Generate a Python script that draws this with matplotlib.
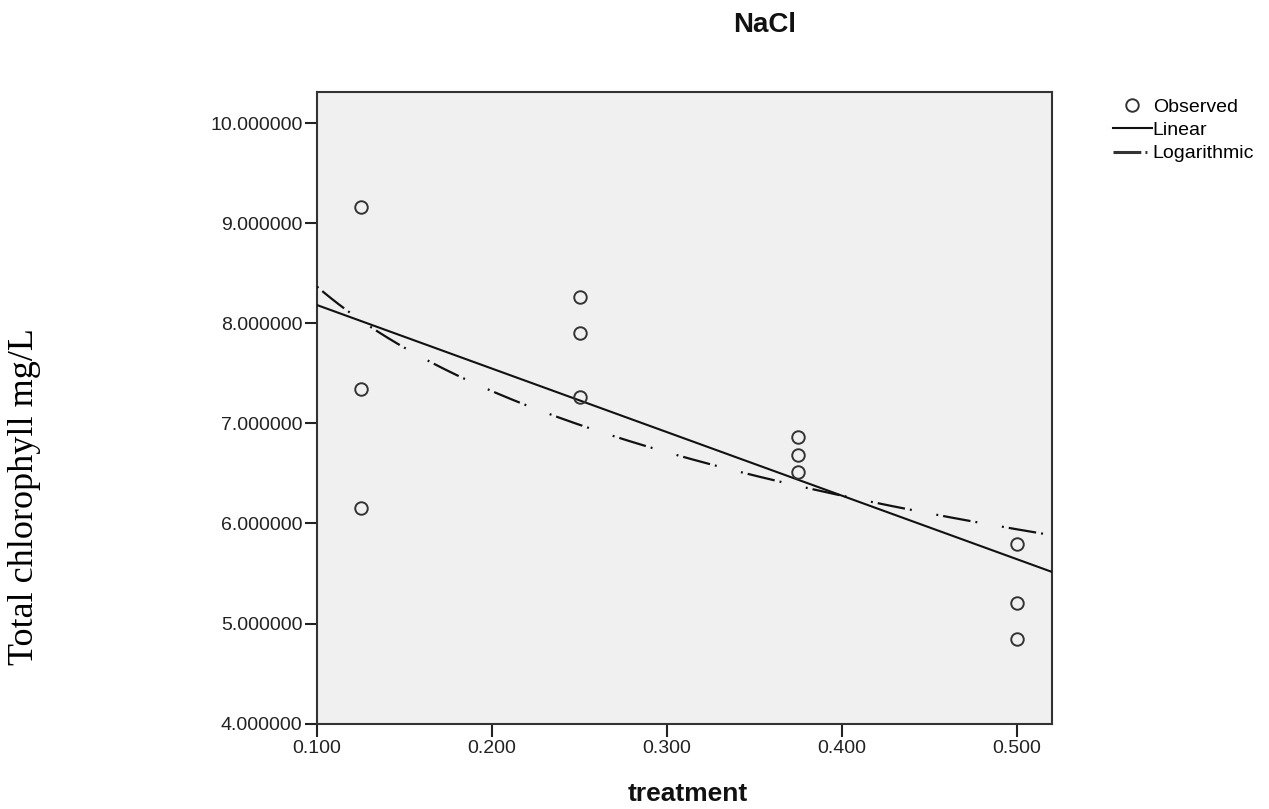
import numpy as np
import matplotlib
matplotlib.use("Agg")
import matplotlib.pyplot as plt
from matplotlib.lines import Line2D

treatment = [0.125, 0.125, 0.125,
             0.250, 0.250, 0.250,
             0.375, 0.375, 0.375,
             0.500, 0.500, 0.500]
chlorophyll = [9.165, 7.345, 6.155,
               8.265, 7.905, 7.265,
               6.865, 6.685, 6.515,
               5.795, 5.205, 4.845]
x_ticks = [0.1, 0.2, 0.3, 0.4, 0.5]
y_ticks = [4, 5, 6, 7, 8, 9, 10]

plt.rcParams['font.family'] = ['Liberation Sans', 'DejaVu Sans']
plt.rcParams['lines.scale_dashes'] = False

x = np.array(treatment)
y = np.array(chlorophyll)

# curve fits (as in the SPSS curve estimation output)
lin = np.polyfit(x, y, 1)
logc = np.polyfit(np.log(x), y, 1)
xx = np.linspace(0.1, 0.52, 300)

fig = plt.figure(figsize=(12.69, 8.09), dpi=100)
ax = fig.add_axes([317 / 1269, 1 - 723.5 / 809, (1052 - 317) / 1269, (723.5 - 92) / 809])
ax.set_facecolor('#f0f0f0')

dashdot = (0, (1.4, 3.6, 20, 3.6, 1.4, 18))
ax.plot(xx, np.polyval(lin, xx), color='#111111', lw=1.5, zorder=3)
ax.plot(xx, np.polyval(logc, np.log(xx)), color='#111111', lw=1.6, linestyle=dashdot, zorder=3)
ax.plot(x, y, linestyle='none', marker='o', markersize=9, markerfacecolor='none',
        markeredgecolor='#333333', markeredgewidth=1.4, zorder=4)

ax.set_xlim(0.1, 0.52)
ax.set_ylim(4, 10.315)
ax.set_xticks(x_ticks)
ax.set_xticklabels(['%.3f' % v for v in x_ticks])
ax.set_yticks(y_ticks)
ax.set_yticklabels(['%.6f' % v for v in y_ticks])
ax.tick_params(axis='both', direction='out', length=9, width=1.5, color='#222222',
               labelsize=14, labelcolor='#222222')
ax.tick_params(axis='y', pad=1.5)
ax.tick_params(axis='x', pad=3)
for s in ax.spines.values():
    s.set_color('#333333')
    s.set_linewidth(1.5)

fig.text(765 / 1269, 1 - 32 / 809, 'NaCl', ha='center', va='baseline',
         fontsize=20, fontweight='bold', color='#111111')
fig.text(688 / 1269, 1 - 801 / 809, 'treatment', ha='center', va='baseline',
         fontsize=19, fontweight='bold', color='#111111')
fig.text(25 / 1269, 1 - 497 / 809, 'Total chlorophyll mg/L', rotation=90,
         ha='center', va='center', fontsize=26, family=['Liberation Serif', 'DejaVu Serif'])

handles = [
    Line2D([], [], linestyle='none', marker='o', markersize=9, markerfacecolor='none',
           markeredgecolor='#333333', markeredgewidth=1.4),
    Line2D([], [], color='#111111', lw=1.5),
    Line2D([], [], color='#333333', lw=2.2, linestyle=(0, (20, 3, 1.4, 20))),
]
fig.legend(handles, ['Observed', 'Linear', 'Logarithmic'], loc='upper left',
           bbox_to_anchor=(1113 / 1269, 1 - 98 / 809), frameon=False, fontsize=14,
           handlelength=2.0, handletextpad=0.05, labelspacing=0.3, borderaxespad=0,
           borderpad=0)

fig.savefig('out.png', dpi=100)
